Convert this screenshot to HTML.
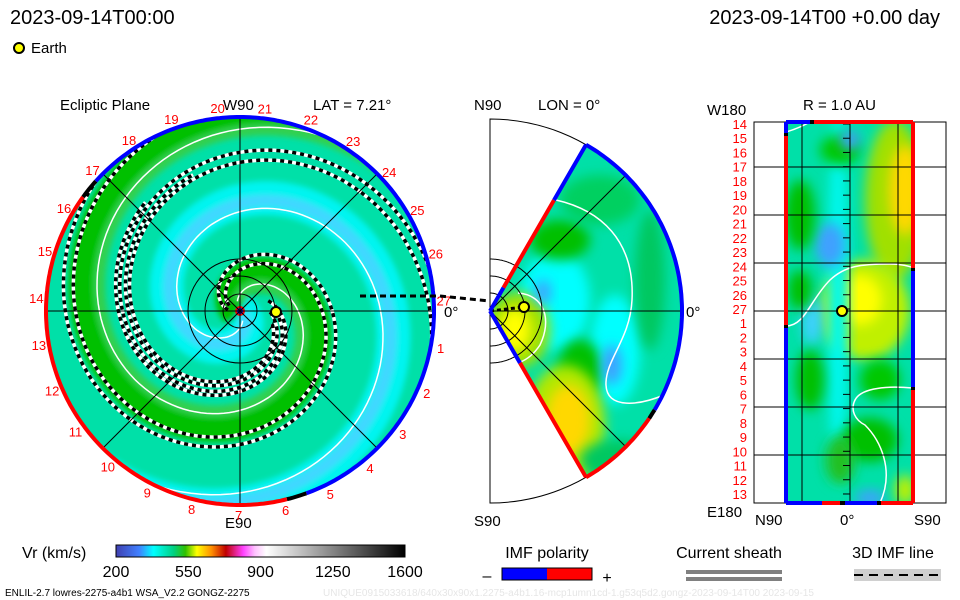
<!DOCTYPE html>
<html><head><meta charset="utf-8"><style>
body{margin:0;background:#fff}
svg{display:block;font-family:"Liberation Sans",sans-serif}
</style></head><body>
<svg id="s" width="960" height="600" viewBox="0 0 960 600">
<defs>
<clipPath id="pc"><circle cx="240" cy="311" r="193"/></clipPath>
<clipPath id="wc"><path d="M490,311 L586,145 A192,192 0 0 1 586,477 Z"/></clipPath>
<clipPath id="rc"><rect x="786" y="122" width="127" height="381"/></clipPath>
<filter id="bl" x="-50%" y="-50%" width="200%" height="200%"><feGaussianBlur stdDeviation="6"/></filter>
<filter id="bl3" x="-20%" y="-20%" width="140%" height="140%"><feGaussianBlur stdDeviation="3"/></filter>
<linearGradient id="cb" x1="0" x2="1" y1="0" y2="0">
<stop offset="0" stop-color="#4040b0"/><stop offset="0.08" stop-color="#4080ff"/><stop offset="0.13" stop-color="#00ffff"/><stop offset="0.2" stop-color="#00d080"/><stop offset="0.24" stop-color="#30c000"/><stop offset="0.28" stop-color="#ffff00"/><stop offset="0.33" stop-color="#ff9000"/><stop offset="0.38" stop-color="#c00000"/><stop offset="0.44" stop-color="#ff40ff"/><stop offset="0.48" stop-color="#ffc0ff"/><stop offset="0.52" stop-color="#ffffff"/><stop offset="1" stop-color="#000000"/>
</linearGradient>
</defs>

<text x="10" y="24" font-size="20">2023-09-14T00:00</text>
<text x="940" y="24" font-size="20" text-anchor="end">2023-09-14T00 +0.00 day</text>
<circle cx="19" cy="48" r="5" fill="#ffff00" stroke="#000" stroke-width="2"/>
<text x="31" y="53" font-size="15">Earth</text>

<text x="60" y="110" font-size="15">Ecliptic Plane</text>
<text x="223" y="110" font-size="15">W90</text>
<text x="313" y="110" font-size="15">LAT = 7.21°</text>
<text x="225" y="528" font-size="15">E90</text>
<text x="444" y="317" font-size="15">0°</text>
<text x="474" y="110" font-size="15">N90</text>
<text x="538" y="110" font-size="15">LON = 0°</text>
<text x="686" y="317" font-size="15">0°</text>
<text x="474" y="526" font-size="15">S90</text>
<text x="707" y="115" font-size="15">W180</text>
<text x="803" y="110" font-size="15">R = 1.0 AU</text>
<text x="707" y="517" font-size="15">E180</text>
<text x="755" y="525" font-size="15">N90</text>
<text x="840" y="525" font-size="15">0°</text>
<text x="914" y="525" font-size="15">S90</text>

<g id="polar">
<g clip-path="url(#pc)" id="pspir"><circle cx="240" cy="311" r="193" fill="#00e0a8"/></g>
<g id="paxes" stroke="#000" stroke-width="1" fill="none"></g>
<g id="prim" fill="none" stroke-width="4"></g>
<g id="plabels" fill="#ff0000" font-size="13" text-anchor="middle"></g>
</g>

<g id="wedge">
<path d="M490,119 A192,192 0 0 1 490,503 Z" fill="none" stroke="#000" stroke-width="1"/>
<g clip-path="url(#wc)" id="wblobs"><rect x="480" y="110" width="220" height="400" fill="#00e0a8"/></g>
<g id="waxes" stroke="#000" stroke-width="1" fill="none"></g>
<g id="wrim" fill="none" stroke-width="4"></g>
</g>

<g id="right">
<rect x="754" y="122" width="192" height="381" fill="none" stroke="#000"/>
<g clip-path="url(#rc)" id="rblobs"><rect x="786" y="122" width="127" height="381" fill="#00e0a8"/></g>
<g id="rgrid" stroke="#000" stroke-width="1"></g>
<g id="rrim" stroke-width="4"></g>
<g id="rlabels" fill="#ff0000" font-size="13" text-anchor="end"></g>
</g>

<path d="M360,296 L440,296 L490,301" fill="none" stroke="#000" stroke-width="3" stroke-dasharray="6 4"/>
<circle cx="276" cy="312" r="5" fill="#ffff00" stroke="#000" stroke-width="2"/>
<circle cx="524" cy="307" r="5" fill="#ffff00" stroke="#000" stroke-width="2"/>
<circle cx="842" cy="311" r="5" fill="#ffff00" stroke="#000" stroke-width="2"/>

<g>
<text x="22" y="558" font-size="16">Vr (km/s)</text>
<rect x="116" y="545" width="289" height="12" fill="url(#cb)" stroke="#000"/>
<g id="cbticks" font-size="16" text-anchor="middle"></g>
</g>
<g>
<text x="547" y="558" font-size="16" text-anchor="middle">IMF polarity</text>
<rect x="502" y="568" width="45" height="12" fill="#0000ff"/><rect x="547" y="568" width="45" height="12" fill="#ff0000"/>
<rect x="502" y="568" width="90" height="12" fill="none" stroke="#000"/>
<text x="487" y="581" font-size="16" text-anchor="middle">–</text><text x="607" y="583" font-size="16" text-anchor="middle">+</text>
</g>
<g>
<text x="729" y="558" font-size="16" text-anchor="middle">Current sheath</text>
<rect x="686" y="570" width="96" height="4" fill="#808080"/><rect x="686" y="577" width="96" height="4" fill="#808080"/>
</g>
<g>
<text x="893" y="558" font-size="16" text-anchor="middle">3D IMF line</text>
<rect x="854" y="569" width="87" height="12" fill="#d0d0d0"/>
<line x1="854" y1="575" x2="941" y2="575" stroke="#000" stroke-width="2" stroke-dasharray="9 6"/>
</g>
<text x="5" y="596" font-size="10">ENLIL-2.7 lowres-2275-a4b1 WSA_V2.2 GONGZ-2275</text>
<text x="323" y="596" font-size="10" fill="#e6e6e6">UNIQUE0915033618/640x30x90x1.2275-a4b1.16-mcp1umn1cd-1.g53q5d2.gongz-2023-09-14T00   2023-09-15</text>
</svg>
<script>
const NS='http://www.w3.org/2000/svg';
const cbTicks=[200,550,900,1250,1600];
const carrLabels=[27,26,25,24,23,22,21,20,19,18,17,16,15,14,13,12,11,10,9,8,7,6,5,4,3,2,1];
const rightLabels=[14,15,16,17,18,19,20,21,22,23,24,25,26,27,1,2,3,4,5,6,7,8,9,10,11,12,13];
// spiral arms: phase (deg), start radius, width, color
const armPhase=[-150,30,45,-100];
const armR0=[0,0,4,10];
const armWidth=[36,34,12,12];
const armColor=['#00c000','#00f4f0','#40d8ff','#30d050'];
const whitePhase=[75,255];
const whiteR0=[10,10];
const dashPhase=[0,185,-20];
const dashR0=[35,12,30];
const dashSweep=[420,540,250];
const rimSegs=[[222,430,'#0000ff'],[430,436,'#000'],[76,216,'#ff0000'],[216,222,'#000']];
function mk(t,a,p){const e=document.createElementNS(NS,t);for(const k in a)e.setAttribute(k,a[k]);p.appendChild(e);return e;}
const CX=240,CY=311,PITCH=165;
function spiral(th0,r0,sw){let d='';for(let f=0;f<=sw;f+=3){const r=r0+PITCH*f/360;const a=(th0+f)*Math.PI/180;d+=(f?'L':'M')+(CX+r*Math.cos(a)).toFixed(1)+','+(CY+r*Math.sin(a)).toFixed(1);}return d;}
const ps=document.getElementById('pspir');
const sg=mk('g',{filter:'url(#bl3)'},ps);
armPhase.forEach((p,i)=>{const e=mk('path',{d:spiral(p,armR0[i],600),fill:'none',stroke:armColor[i],'stroke-width':armWidth[i]},sg);

});
whitePhase.forEach((p,i)=>{const e=mk('path',{d:spiral(p,whiteR0[i],600),fill:'none',stroke:'#fff','stroke-width':1.5},ps);

});
dashPhase.forEach((p,i)=>{[0,22].forEach(off=>{mk('path',{d:spiral(p+off,dashR0[i],dashSweep[i]),fill:'none',stroke:'#fff','stroke-width':3.5},ps);
const e=mk('path',{d:spiral(p+off,dashR0[i],dashSweep[i]),fill:'none',stroke:'#000','stroke-width':3.5,'stroke-dasharray':'4 4'},ps);

});});
mk('circle',{cx:240,cy:311,r:4,fill:'#0000ff',stroke:'#ff0000','stroke-width':2},ps);
const pa=document.getElementById('paxes');
for(let k=0;k<4;k++){const a=k*Math.PI/4;mk('line',{x1:CX-193*Math.cos(a),y1:CY-193*Math.sin(a),x2:CX+193*Math.cos(a),y2:CY+193*Math.sin(a)},pa);}
[17,35,52].forEach(r=>mk('circle',{cx:CX,cy:CY,r:r},pa));
function arcPts(cx,cy,r,a0,a1){let d='';for(let a=a0;a<=a1+0.01;a+=1){const t=a*Math.PI/180;d+=(a===a0?'M':'L')+(cx+r*Math.cos(t)).toFixed(1)+','+(cy+r*Math.sin(t)).toFixed(1);}return d;}
const pr=document.getElementById('prim');
rimSegs.forEach(s=>{const e=mk('path',{d:arcPts(CX,CY,194,s[0],s[1]),stroke:s[2]},pr);

});
const pl=document.getElementById('plabels');
carrLabels.forEach((n,k)=>{const a=(-3-k*13.33)*Math.PI/180;const t=mk('text',{x:(CX+204*Math.cos(a)).toFixed(1),y:(CY+204*Math.sin(a)+5).toFixed(1)},pl);t.textContent=n;

});
// wedge
const wb=document.getElementById('wblobs');
const wBlobs=[[555,300,35,50,'#00ffff'],[615,350,25,55,'#00ffff'],[560,240,30,20,'#00c000'],[600,200,40,25,'#00d060'],[650,280,15,70,'#00c860'],[580,370,22,30,'#00c000'],[565,425,40,60,'#b0e800'],[568,420,22,35,'#ffd800'],[518,330,32,38,'#a0e000'],[515,330,16,22,'#ffff00'],[543,292,8,12,'#40a0ff'],[612,365,10,20,'#40a0ff'],[620,460,40,20,'#00c860']];
wBlobs.forEach(b=>{const e=mk('ellipse',{cx:b[0],cy:b[1],rx:b[2],ry:b[3],fill:b[4],filter:'url(#bl)'},wb);

});
mk('path',{d:'M556,200 C600,210 635,240 632,300 C630,340 605,360 606,385 C607,410 640,405 664,395',fill:'none',stroke:'#fff','stroke-width':1.5},wb);
mk('path',{d:'M518,293 C545,295 552,320 540,345 C530,360 520,362 518,363',fill:'none',stroke:'#fff','stroke-width':1.5},wb);
const wa=document.getElementById('waxes');
[-45,0,45].forEach(a=>{const t=a*Math.PI/180;mk('line',{x1:490,y1:311,x2:490+192*Math.cos(t),y2:311+192*Math.sin(t)},wa);});
[18,35,52].forEach(r=>mk('path',{d:arcPts(490,311,r,-90,90)},wa));
mk('path',{d:'M490,311 L524,307',stroke:'#000','stroke-width':3,'stroke-dasharray':'4 3'},wa);
const wr=document.getElementById('wrim');
function ray(a,r0,r1,c){const t=a*Math.PI/180;const e=mk('line',{x1:490+r0*Math.cos(t),y1:311+r0*Math.sin(t),x2:490+r1*Math.cos(t),y2:311+r1*Math.sin(t),stroke:c},wr);

}
ray(-60,0,27,'#0000ff');ray(-60,27,128,'#ff0000');ray(-60,128,192,'#0000ff');
ray(60,0,60,'#0000ff');ray(60,60,192,'#ff0000');
mk('path',{d:arcPts(490,311,192,-60,31),stroke:'#0000ff'},wr);
mk('path',{d:arcPts(490,311,192,31,34),stroke:'#000'},wr);
mk('path',{d:arcPts(490,311,192,34,60),stroke:'#ff0000'},wr);
// right panel
const rb=document.getElementById('rblobs');
const rBlobs=[[895,200,30,80,'#a0e000'],[905,190,16,45,'#ffd800'],[865,310,45,50,'#c0f000'],[860,300,22,25,'#ffff00'],[838,300,10,190,'#00f8f0'],[830,245,15,22,'#40a0ff'],[812,320,10,25,'#40d0ff'],[800,215,15,35,'#00c000'],[800,290,12,20,'#00c000'],[810,380,14,30,'#00c000'],[870,440,28,22,'#00c000'],[840,150,20,15,'#00c800'],[880,380,20,20,'#00c800'],[870,498,15,8,'#40a0ff'],[850,140,10,10,'#40a0ff'],[905,490,10,15,'#c0f000'],[840,460,15,25,'#20c020']];
rBlobs.forEach(b=>{const e=mk('ellipse',{cx:b[0],cy:b[1],rx:b[2],ry:b[3],fill:b[4],filter:'url(#bl)'},rb);

});
['M786,132 C800,128 806,124 810,122','M786,326 C805,326 810,300 830,280 C845,266 860,264 890,264 C900,264 910,266 913,268','M913,388 C880,385 860,390 855,400 C850,410 855,420 865,425 C880,440 895,470 880,503'].forEach(d=>mk('path',{d:d,fill:'none',stroke:'#fff','stroke-width':1.5},rb));
const rg=document.getElementById('rgrid');
[167,215,263,311,359,407,455].forEach(y=>mk('line',{x1:754,x2:946,y1:y,y2:y},rg));
[802,850,898].forEach(x=>mk('line',{x1:x,x2:x,y1:122,y2:503},rg));
for(let y=124;y<503;y+=14.23)mk('line',{x1:843,x2:850,y1:y,y2:y},rg);
const rr=document.getElementById('rrim');
const rEdges=[[786,122,786,133,'#0000ff'],[786,133,786,136,'#000'],[786,136,786,325,'#ff0000'],[786,325,786,328,'#000'],[786,328,786,503,'#0000ff'],
[913,122,913,268,'#ff0000'],[913,268,913,271,'#000'],[913,271,913,387,'#0000ff'],[913,387,913,390,'#000'],[913,390,913,503,'#ff0000'],
[786,122,810,122,'#0000ff'],[810,122,814,122,'#000'],[814,122,913,122,'#ff0000'],
[786,503,822,503,'#0000ff'],[822,503,840,503,'#ff0000'],[840,503,845,503,'#000'],[845,503,877,503,'#0000ff'],[877,503,881,503,'#000'],[881,503,913,503,'#ff0000']];
rEdges.forEach(s=>{const e=mk('line',{x1:s[0],y1:s[1],x2:s[2],y2:s[3],stroke:s[4]},rr);

});
const rl=document.getElementById('rlabels');
rightLabels.forEach((n,i)=>{const t=mk('text',{x:747,y:(124+i*14.23+5).toFixed(1)},rl);t.textContent=n;

});
const cbt=document.getElementById('cbticks');
cbTicks.forEach(v=>{const t=mk('text',{x:(116+289*(v-200)/1400).toFixed(1),y:577},cbt);t.textContent=v;

});
</script>
</body></html>
